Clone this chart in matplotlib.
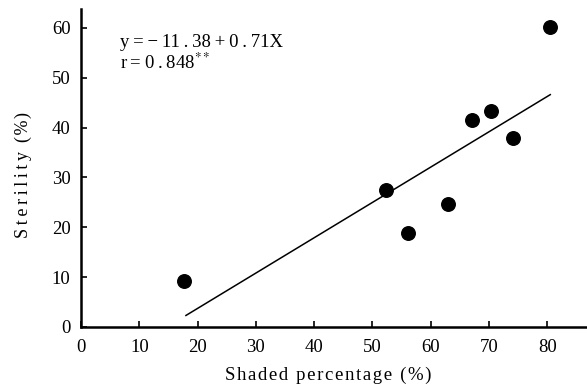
import matplotlib
matplotlib.use("Agg")
import matplotlib.pyplot as plt

shaded = [17.6, 52.3, 56.1, 63.0, 67.1, 70.3, 74.1, 80.4]
sterility = [9.3, 27.5, 18.8, 24.6, 41.6, 43.3, 38.0, 60.1]
fit_x = [18.0, 80.5]
fit_y = [2.3, 46.6]
xticks = [0, 10, 20, 30, 40, 50, 60, 70, 80]
yticks = [0, 10, 20, 30, 40, 50, 60]

plt.rcParams['font.family'] = ['Liberation Serif', 'DejaVu Serif']
plt.rcParams['mathtext.fontset'] = 'stix'

HS = '\u200a'
TS = '\u2009'

fig = plt.figure(figsize=(5.87, 3.92), dpi=100)
ax = fig.add_axes([0.138, 0.166, 0.86, 0.81])
ax.plot(fit_x, fit_y, color='black', lw=1.1)
ax.scatter(shaded, sterility, s=95, color='black', zorder=3)
ax.set_xlim(0, 86.6)
ax.set_ylim(0, 63.7)
ax.set_xticks(xticks)
ax.set_yticks(yticks)
for s in ['top', 'right']:
    ax.spines[s].set_visible(False)
for s in ['left', 'bottom']:
    ax.spines[s].set_linewidth(1.8)
ax.tick_params(direction='in', length=4, width=1.2, labelsize=13.5)
ax.tick_params(axis='x', pad=9)
ax.tick_params(axis='y', pad=7.5)
ax.set_xlabel(HS.join('Shaded percentage (%)'), fontsize=13.5)
ax.xaxis.set_label_coords(0.49, -0.124)
ax.set_ylabel(TS.join('Sterility') + '\u2002' + HS.join('(%)'), fontsize=13)
ax.yaxis.set_label_coords(-0.098, 0.48)
ax.text(0.077, 0.897, 'y\u2009=\u2009−\u200911\u2009.\u200938\u2009+\u20090\u2009.\u200971X',
        transform=ax.transAxes, fontsize=13.5, va='center')
ax.text(0.077, 0.831, 'r\u2009=\u20090\u2009.\u2009848$^{**}$', transform=ax.transAxes,
        fontsize=13.5, va='center')
fig.savefig('out.png', dpi=100)
